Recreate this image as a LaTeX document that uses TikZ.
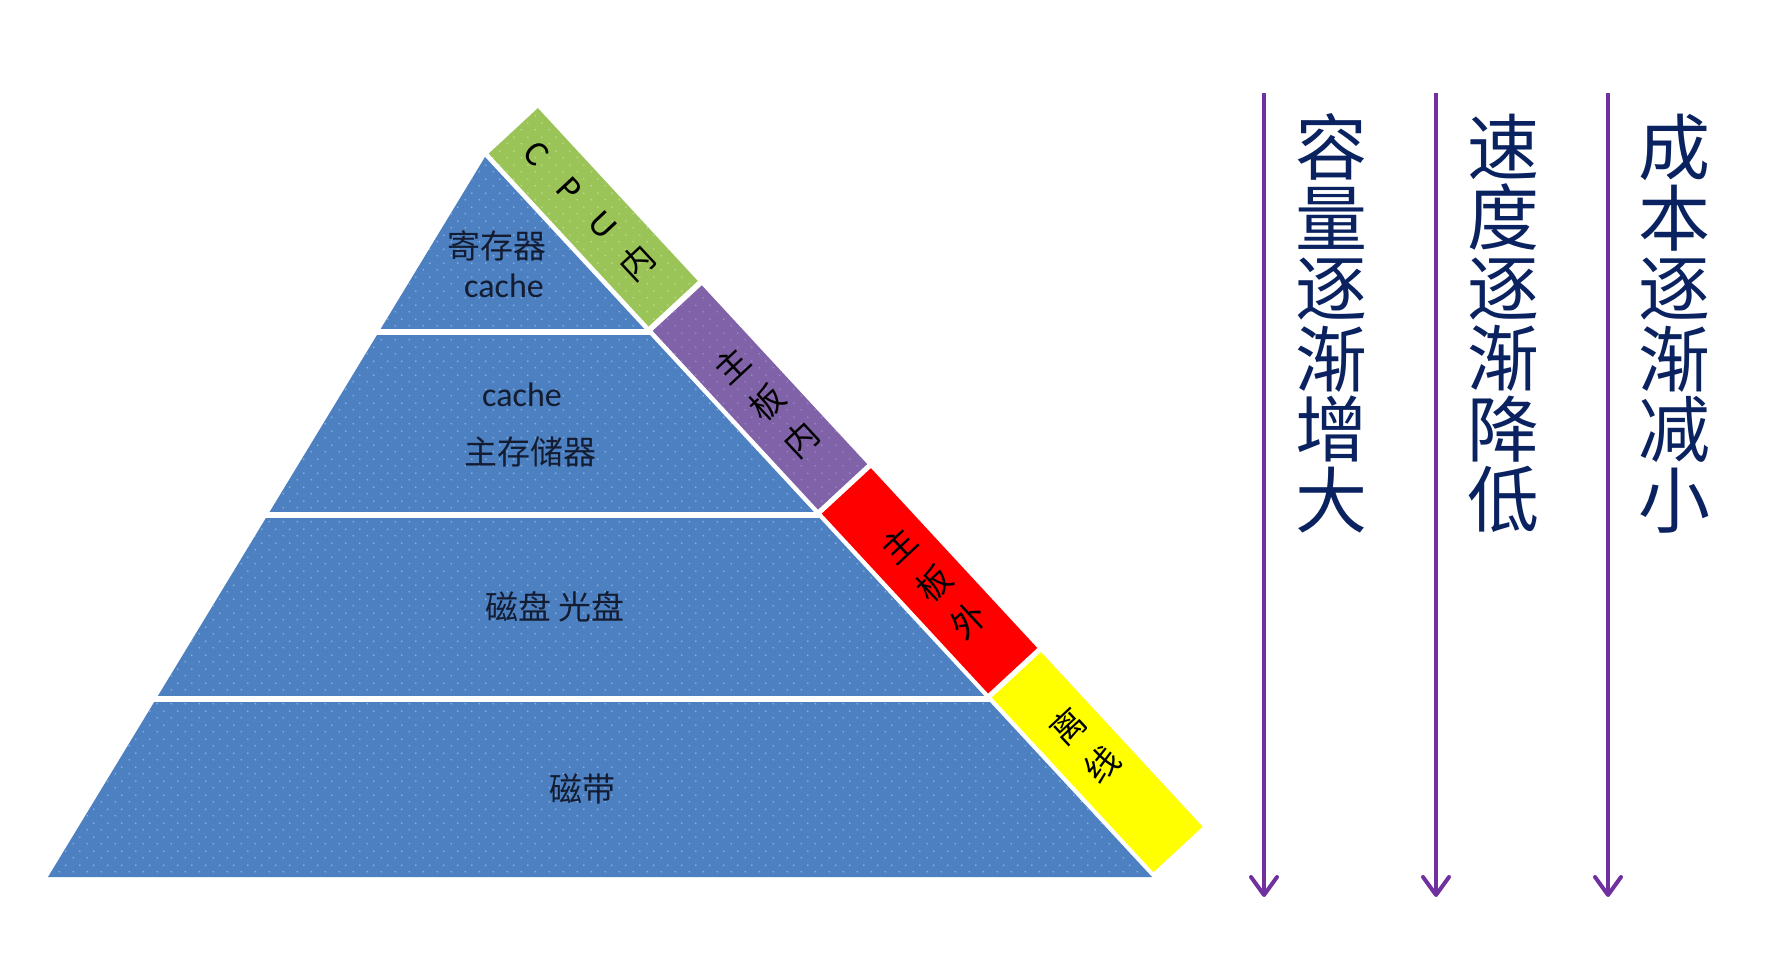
\documentclass[tikz,border=0pt]{standalone}
\usepackage{fontspec}
\setmainfont{Carlito}
\newfontfamily\cjk{Noto Sans CJK SC}
\usetikzlibrary{arrows.meta,patterns.meta}

\definecolor{pyrblue}{RGB}{76,128,192}
\definecolor{dotblue}{RGB}{140,178,225}
\definecolor{cpugreen}{RGB}{155,196,88}
\definecolor{dotgreen}{RGB}{190,220,145}
\definecolor{mbpurple}{RGB}{128,98,168}
\definecolor{dotpurple}{RGB}{160,135,195}
\definecolor{offred}{RGB}{255,0,0}
\definecolor{offyellow}{RGB}{255,255,0}
\definecolor{arrowpurple}{RGB}{112,48,160}
\definecolor{navy}{RGB}{10,34,96}
\definecolor{pyrtext}{RGB}{20,28,50}

\tikzdeclarepattern{
  name=sparsedots,
  type=uncolored,
  bounding box={(0pt,0pt) and (7pt,7pt)},
  tile size={(7pt,7pt)},
  code={
    \fill (1.75pt,1.75pt) circle [radius=0.5pt];
    \fill (5.25pt,5.25pt) circle [radius=0.5pt];
  }
}

\newcommand{\mybigcolfont}{\cjk\fontsize{36}{35.25}\selectfont\lineskiplimit=-100pt\relax\lineskip=0pt\relax}

\tikzset{
  bigcol/.style={font=\mybigcolfont, text=navy, align=center, inner sep=0pt},
  pyrcjk/.style={font=\cjk\fontsize{16.5}{20}\selectfont, text=pyrtext, inner sep=0pt},
  pyrlat/.style={font=\fontsize{17}{20}\selectfont, text=pyrtext, inner sep=0pt},
  stripcjk/.style={font=\cjk\fontsize{17}{20}\selectfont, text=black, inner sep=0pt, rotate=43},
  striplat/.style={font=\fontsize{18}{20}\selectfont, text=black, inner sep=0pt, rotate=-47},
  arr/.style={draw=arrowpurple, line width=2pt,
    -{Straight Barb[length=9pt,width=13pt,line cap=round,line join=round]}},
  divider/.style={draw=white, line width=3pt},
}

\begin{document}
\begin{tikzpicture}[x=0.5pt,y=-0.5pt]
\useasboundingbox[fill=white] (0,0) rectangle (1776,973);

% ---------- pyramid ----------
\coordinate (apex) at (485,157);
\coordinate (bl) at (48,877);
\coordinate (br) at (1152,877);
\fill[pyrblue] (apex) -- (bl) -- (br) -- cycle;
\fill[pattern=sparsedots, pattern color=dotblue] (apex) -- (bl) -- (br) -- cycle;
\draw[divider] (0,332) -- (650,332);
\draw[divider] (0,515) -- (819,515);
\draw[divider] (0,699) -- (990,699);

\node[pyrcjk] (reg) at (497,246) {寄存器};
\node[pyrlat, anchor=base] (cacheA) at (504,297) {cache};
\node[pyrlat, anchor=base] (cacheB) at (522,406) {cache};
\node[pyrcjk] (mem) at (530,452) {主存储器};
\node[pyrcjk] (disk) at (555,607) {磁盘 光盘};
\node[pyrcjk] (tape) at (582,789) {磁带};

% ---------- side strip ----------
\begin{scope}[shift={(488.7,153.6)}, x={(0.3395pt,-0.367pt)}, y={(0.367pt,0.3395pt)}]
  \fill[cpugreen] (0,0) -- (235.5,0) -- (235.5,67) -- (0,67) -- cycle;
  \fill[pattern=sparsedots, pattern color=dotgreen] (0,0) -- (235.5,0) -- (235.5,67) -- (0,67) -- cycle;
  \fill[mbpurple] (241.5,0) -- (485,0) -- (485,67) -- (241.5,67) -- cycle;
  \fill[pattern=sparsedots, pattern color=dotpurple] (241.5,0) -- (485,0) -- (485,67) -- (241.5,67) -- cycle;
  \fill[offred] (490.5,0) -- (735.5,0) -- (735.5,67) -- (490.5,67) -- cycle;
  \fill[offyellow] (741,0) -- (979,0) -- (979,67) -- (741,67) -- cycle;

  \node[striplat] (cC) at (32,35) {C};
  \node[striplat] (cP) at (81,35) {P};
  \node[striplat] (cU) at (130,35) {U};
  \node[stripcjk] (cN) at (181,35) {内};

  \node[stripcjk] (iA) at (320,35) {主};
  \node[stripcjk] (iB) at (372,35) {板};
  \node[stripcjk] (iC) at (422,35) {内};

  \node[stripcjk] (oA) at (566,35) {主};
  \node[stripcjk] (oB) at (618,35) {板};
  \node[stripcjk] (oC) at (668,35) {外};

  \node[stripcjk] (fA) at (814,36) {离};
  \node[stripcjk] (fB) at (865,36) {线};
\end{scope}

% ---------- arrows and labels ----------
\coordinate (a1t) at (1264,93);  \coordinate (a1b) at (1264,897);
\coordinate (a2t) at (1436,93);  \coordinate (a2b) at (1436,897);
\coordinate (a3t) at (1608,93);  \coordinate (a3b) at (1608,897);
\draw[arr] (a1t) -- (a1b);
\draw[arr] (a2t) -- (a2b);
\draw[arr] (a3t) -- (a3b);

\node[bigcol] (cap) at (1331,323.5) {容\\量\\逐\\渐\\增\\大};
\node[bigcol] (spd) at (1503,323.5) {速\\度\\逐\\渐\\降\\低};
\node[bigcol] (cst) at (1674,323.5) {成\\本\\逐\\渐\\减\\小};
\end{tikzpicture}
\end{document}
